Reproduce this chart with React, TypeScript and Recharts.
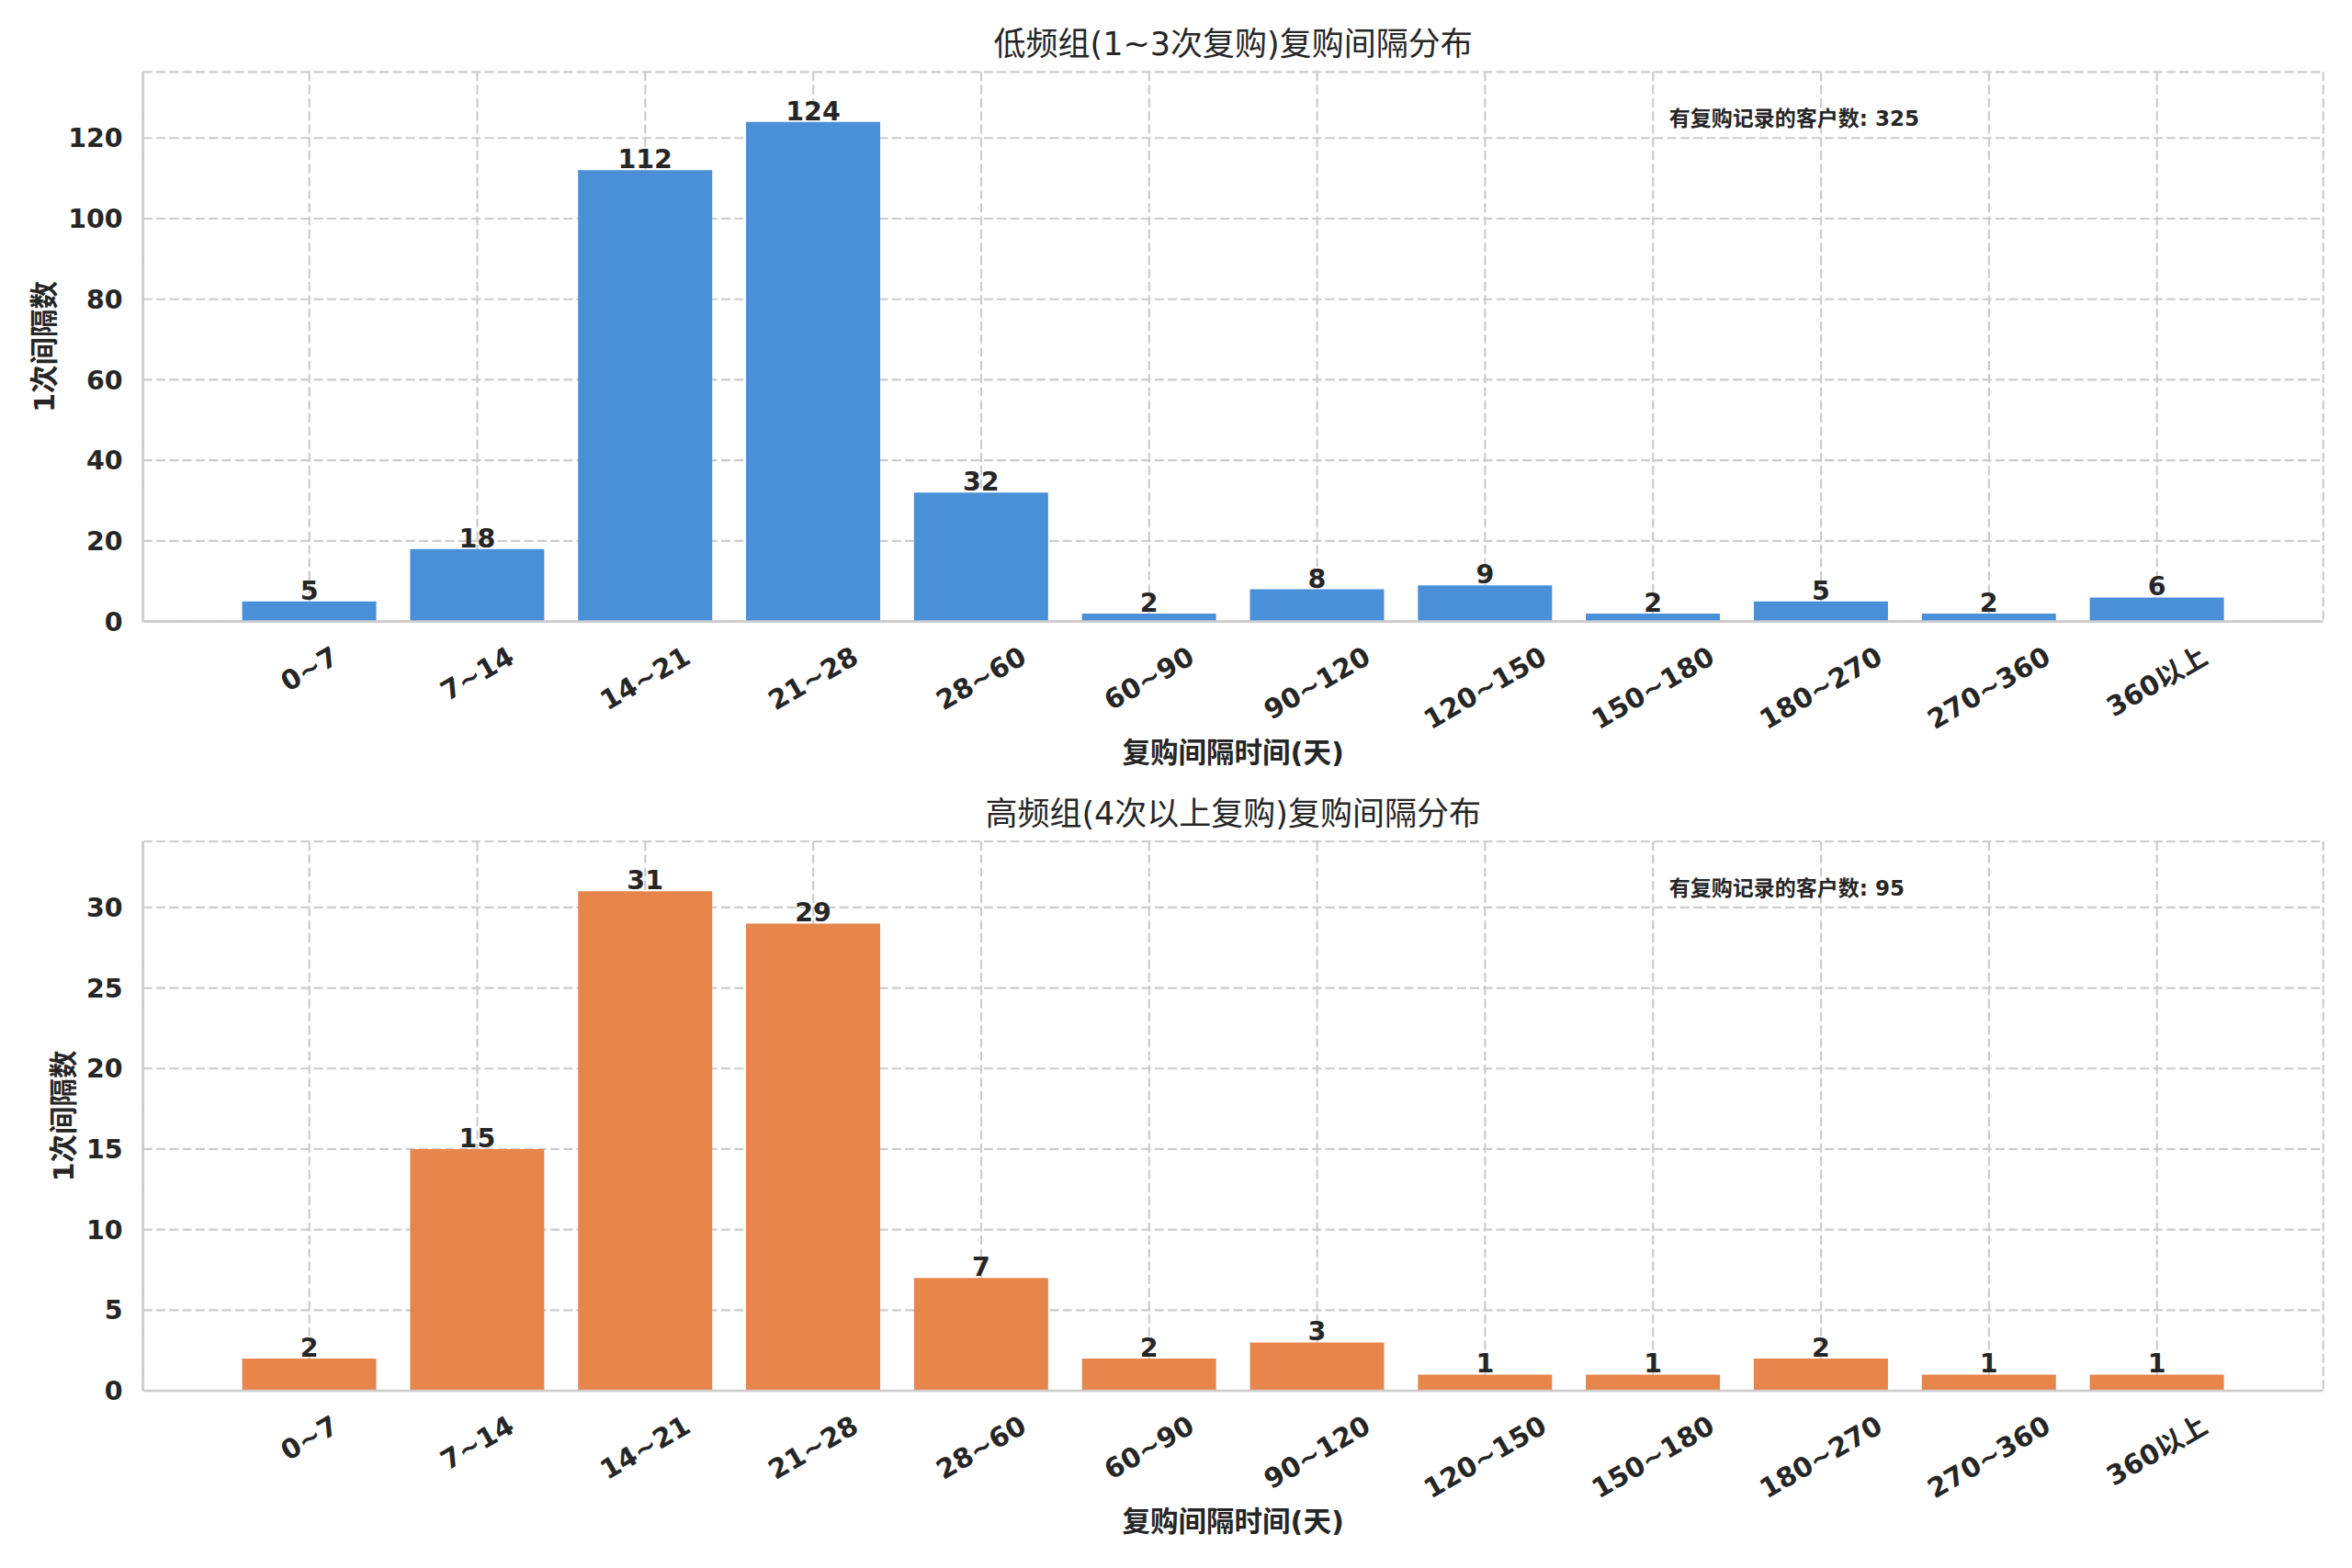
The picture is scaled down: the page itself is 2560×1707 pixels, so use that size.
import React from 'react';
import { BarChart, Bar, XAxis, YAxis, CartesianGrid, LabelList } from 'recharts';

// ---------- data ----------
const categories = ['0~7', '7~14', '14~21', '21~28', '28~60', '60~90', '90~120', '120~150', '150~180', '180~270', '270~360', '360以上'];
const lowFreqCounts = [5, 18, 112, 124, 32, 2, 8, 9, 2, 5, 2, 6];
const highFreqCounts = [2, 15, 31, 29, 7, 2, 3, 1, 1, 2, 1, 1];
const yTicksTop = [0, 20, 40, 60, 80, 100, 120];
const yTicksBottom = [0, 5, 10, 15, 20, 25, 30];

const titleTop = '低频组(1~3次复购)复购间隔分布';
const titleBottom = '高频组(4次以上复购)复购间隔分布';
const xLabelText = '复购间隔时间(天)';
const yLabelText = '1次间隔数';
const annotationPrefix = '有复购记录的客户数: ';

// ---------- style ----------
const FONT = "'DejaVu Sans', 'Noto Sans CJK SC', sans-serif";
const TEXT = '#262626';
const GRID = '#cccccc';
const BLUE = '#4a90d9';
const ORANGE = '#e8854b';

const W = 2560;
const H = 1707;
const PLOT_LEFT = 155.7;
const PLOT_RIGHT = 2528.7;
const PLOT_W = PLOT_RIGHT - PLOT_LEFT;
const UNIT = PLOT_W / (categories.length + 0.98);
const PAD = (PLOT_W - categories.length * UNIT) / 2;

const charW = (c: string) =>
  /[0-9]/.test(c) ? 0.696 : c === '~' ? 0.838 : /[\u4e00-\u9fff]/.test(c) ? 1.0 : 0.62;

const XTick = (props: any) => {
  const { x, y, payload } = props;
  const label = String(payload.value);
  const fs = 29.5;
  let w = 0;
  for (const c of label) w += charW(c) * fs;
  const capH = 0.73 * fs;
  const bboxH = 0.5 * w + 0.866 * capH;
  const cy = y + 26 + bboxH / 2;
  return (
    <text
      x={x}
      y={cy}
      transform={`rotate(-30 ${x} ${cy})`}
      textAnchor="middle"
      dominantBaseline="central"
      fontFamily={FONT}
      fontSize={fs}
      fontWeight="bold"
      fill={TEXT}
    >
      {label}
    </text>
  );
};

type PanelProps = {
  values: number[];
  color: string;
  ticks: number[];
  height: number;
  top: number;
  plotTop: number;
  plotBottom: number;
};

const Panel = ({ values, color, ticks, height, top, plotTop, plotBottom }: PanelProps) => {
  const data = categories.map((c, i) => ({ cat: c, v: values[i] }));
  const ymax = Math.max(...values) * 1.1;
  const mTop = plotTop - top;
  const xAxisH = top + height - plotBottom;
  return (
    <div style={{ position: 'absolute', left: 0, top, width: W, height }}>
      <BarChart
        width={W}
        height={height}
        data={data}
        margin={{ top: mTop, right: W - PLOT_RIGHT, bottom: 0, left: 0 }}
        barCategoryGap="10%"
      >
        <CartesianGrid stroke={GRID} strokeWidth={2.2} strokeDasharray="10 4.3" />
        <XAxis
          dataKey="cat"
          interval={0}
          padding={{ left: PAD, right: PAD }}
          height={xAxisH}
          tickSize={0}
          tickMargin={0}
          tickLine={false}
          axisLine={{ stroke: GRID, strokeWidth: 2.7 }}
          tick={(p: any) => <XTick {...p} />}
        />
        <XAxis
          xAxisId="topAxis"
          dataKey="cat"
          orientation="top"
          height={0}
          tick={false}
          tickLine={false}
          axisLine={{ stroke: GRID, strokeWidth: 2.7 }}
        />
        <YAxis
          domain={[0, ymax]}
          ticks={ticks}
          width={PLOT_LEFT}
          tickSize={0}
          tickMargin={22}
          tickLine={false}
          axisLine={{ stroke: GRID, strokeWidth: 2.7 }}
          tick={{ fill: TEXT, fontSize: 28.5, fontWeight: 'bold', fontFamily: FONT }}
          allowDataOverflow
        />
        <YAxis
          yAxisId="rightAxis"
          orientation="right"
          width={0}
          tick={false}
          tickLine={false}
          axisLine={{ stroke: GRID, strokeWidth: 2.7 }}
        />
        <Bar dataKey="v" fill={color} isAnimationActive={false}>
          <LabelList
            dataKey="v"
            position="top"
            offset={2}
            fill={TEXT}
            fontSize={28.5}
            fontWeight="bold"
            fontFamily={FONT}
          />
        </Bar>
      </BarChart>
    </div>
  );
};

const sum = (a: number[]) => a.reduce((s, x) => s + x, 0);

export default function App() {
  const cx = (PLOT_LEFT + PLOT_RIGHT) / 2;
  const annX = PLOT_LEFT + 0.7 * PLOT_W;
  return (
    <div style={{ position: 'absolute', left: 0, top: 0, width: W, height: H, background: '#fff', fontFamily: FONT }}>
      <Panel values={lowFreqCounts} color={BLUE} ticks={yTicksTop} height={850} top={0} plotTop={78.3} plotBottom={676.7} />
      <Panel values={highFreqCounts} color={ORANGE} ticks={yTicksBottom} height={857} top={850} plotTop={916} plotBottom={1514} />
      <svg width={W} height={H} style={{ position: 'absolute', left: 0, top: 0, pointerEvents: 'none' }}>
        <g fontFamily={FONT} fill={TEXT}>
          <text x={cx} y={60} textAnchor="middle" fontSize={35}>{titleTop}</text>
          <text x={cx} y={898} textAnchor="middle" fontSize={35}>{titleBottom}</text>
          <text x={annX} y={137} fontSize={23} fontWeight="bold">{annotationPrefix + sum(lowFreqCounts)}</text>
          <text x={annX} y={975} fontSize={23} fontWeight="bold">{annotationPrefix + sum(highFreqCounts)}</text>
          <text x={cx} y={830} textAnchor="middle" fontSize={30.5} fontWeight="bold">{xLabelText}</text>
          <text x={cx} y={1667} textAnchor="middle" fontSize={30.5} fontWeight="bold">{xLabelText}</text>
          <text x={48} y={377.5} transform="rotate(-90 48 377.5)" textAnchor="middle" dominantBaseline="central" fontSize={30.5} fontWeight="bold">{yLabelText}</text>
          <text x={69} y={1215} transform="rotate(-90 69 1215)" textAnchor="middle" dominantBaseline="central" fontSize={30.5} fontWeight="bold">{yLabelText}</text>
        </g>
      </svg>
    </div>
  );
}
